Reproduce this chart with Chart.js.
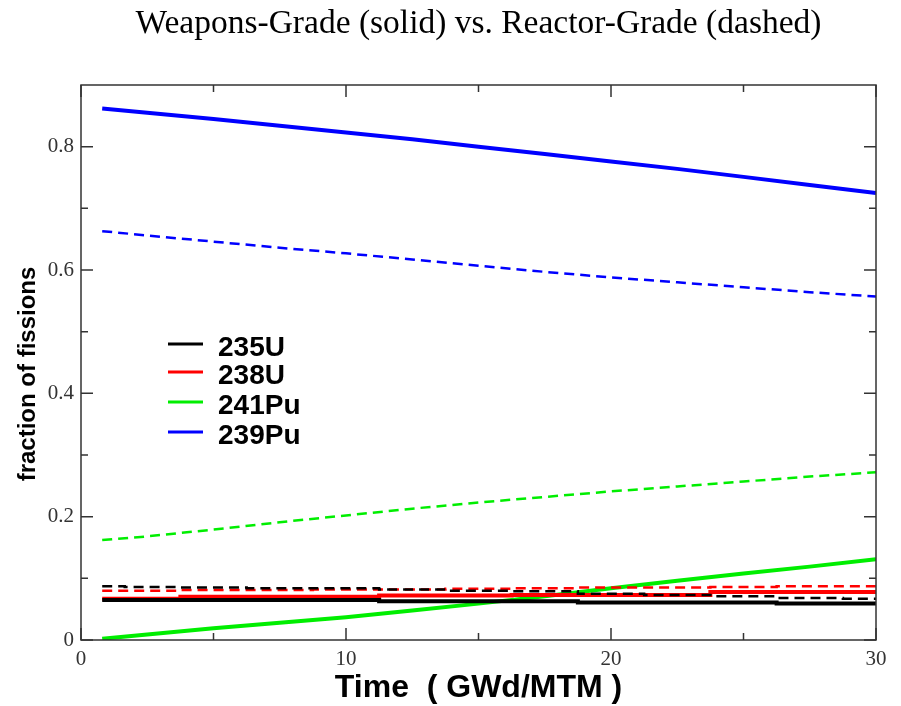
<!DOCTYPE html>
<html>
<head>
<meta charset="utf-8">
<script src="https://cdn.jsdelivr.net/npm/chart.js@4.4.0/dist/chart.umd.min.js"></script>
<style>
  html, body { margin: 0; padding: 0; background: #fff; }
  #wrap { width: 901px; height: 706px; }
</style>
</head>
<body>
<div id="wrap"><canvas id="myChart" width="901" height="706"></canvas></div>
<script>
// burnup points (GWd/MTM)
var burnup = [0.8, 2.5, 5, 7.5, 10, 12.5, 15, 17.5, 20, 22.5, 25, 27.5, 30];

// weapons-grade (solid)
var u235WG  = [0.065, 0.065, 0.065, 0.065, 0.065, 0.063, 0.063, 0.063, 0.061, 0.061, 0.061, 0.059, 0.059];
var u238WG  = [0.067, 0.067, 0.070, 0.070, 0.070, 0.072, 0.072, 0.073, 0.073, 0.073, 0.078, 0.078, 0.078];
var pu241WG = [0.002, 0.009, 0.019, 0.028, 0.037, 0.048, 0.059, 0.071, 0.084, 0.096, 0.108, 0.119, 0.131];
var pu239WG = [0.862, 0.855, 0.845, 0.834, 0.823, 0.812, 0.800, 0.788, 0.776, 0.764, 0.751, 0.738, 0.725];

// reactor-grade (dashed)
var u235RG  = [0.087, 0.086, 0.085, 0.084, 0.084, 0.082, 0.080, 0.079, 0.075, 0.073, 0.071, 0.068, 0.067];
var u238RG  = [0.080, 0.080, 0.081, 0.081, 0.082, 0.082, 0.083, 0.084, 0.085, 0.085, 0.086, 0.087, 0.087];
var pu241RG = [0.162, 0.168, 0.179, 0.191, 0.202, 0.213, 0.223, 0.232, 0.241, 0.249, 0.257, 0.265, 0.272];
var pu239RG = [0.663, 0.656, 0.646, 0.636, 0.627, 0.617, 0.607, 0.597, 0.588, 0.580, 0.572, 0.564, 0.557];

var isotopes = ['235U', '238U', '241Pu', '239Pu'];
var colors = ['#000000', '#ff0000', '#00ee00', '#0000ff'];
var xTicks = [0, 10, 20, 30];
var yTicks = [0, 0.2, 0.4, 0.6, 0.8];

var titleText = 'Weapons-Grade (solid) vs. Reactor-Grade (dashed)';
var xTitle = 'Time  ( GWd/MTM )';
var yTitle = 'fraction of fissions';

function pts(arr) {
    return arr.map(function(v, i){ return {x: burnup[i], y: v}; });
}

var solid = [u235WG, u238WG, pu241WG, pu239WG];
var dashed = [u235RG, u238RG, pu241RG, pu239RG];
var datasets = [];
for (var i = 0; i < 4; i++) {
    datasets.push({
        label: isotopes[i] + ' RG',
        data: pts(dashed[i]),
        borderColor: colors[i],
        borderWidth: 2.5,
        borderDash: [10, 6],
        pointRadius: 0,
        stepped: i < 2 ? 'middle' : false,
        tension: 0
    });
}
for (var i = 0; i < 4; i++) {
    datasets.push({
        label: isotopes[i],
        data: pts(solid[i]),
        borderColor: colors[i],
        borderWidth: 4,
        pointRadius: 0,
        stepped: i < 2 ? 'middle' : false,
        tension: 0
    });
}

// frame, inward ticks, titles and the in-plot legend
var framePlugin = {
    id: 'frame',
    afterDraw: function(chart) {
        var c = chart.ctx, a = chart.chartArea;
        var xs = chart.scales.x, ys = chart.scales.y;
        var cx = (a.left + a.right) / 2;
        c.save();
        c.strokeStyle = '#333';
        c.lineWidth = 1.5;
        c.strokeRect(a.left, a.top, a.right - a.left, a.bottom - a.top);
        c.beginPath();
        for (var v = 0; v <= 30; v += 5) {
            var px = xs.getPixelForValue(v);
            var len = (v % 10 === 0) ? 12 : 7;
            c.moveTo(px, a.bottom); c.lineTo(px, a.bottom - len);
            c.moveTo(px, a.top); c.lineTo(px, a.top + len);
        }
        for (var k = 0; k <= 8; k++) {
            var py = ys.getPixelForValue(k / 10);
            var len2 = (k % 2 === 0) ? 12 : 7;
            c.moveTo(a.left, py); c.lineTo(a.left + len2, py);
            c.moveTo(a.right, py); c.lineTo(a.right - len2, py);
        }
        c.stroke();

        // titles
        c.fillStyle = '#000';
        c.textAlign = 'center';
        c.textBaseline = 'middle';
        c.font = '33.5px "Liberation Serif", "Times New Roman", serif';
        c.fillText(titleText, cx, 24);
        c.font = 'bold 32px "Liberation Sans", Arial, sans-serif';
        c.fillText(xTitle, cx, 688);
        c.save();
        c.translate(28, 374);
        c.rotate(-Math.PI / 2);
        c.font = 'bold 24px "Liberation Sans", Arial, sans-serif';
        c.fillText(yTitle, 0, 0);
        c.restore();

        // legend
        var ly = [344, 372, 402, 432];
        c.textAlign = 'left';
        c.font = 'bold 28px "Liberation Sans", Arial, sans-serif';
        for (var j = 0; j < 4; j++) {
            c.strokeStyle = colors[j];
            c.lineWidth = 3;
            c.beginPath();
            c.moveTo(168, ly[j]); c.lineTo(203, ly[j]);
            c.stroke();
            c.fillText(isotopes[j], 218, ly[j] + 4);
        }
        c.restore();
    }
};

var ctx = document.getElementById('myChart');
var chart = new Chart(ctx, {
    type: 'line',
    data: { datasets: datasets },
    options: {
        responsive: false,
        animation: false,
        layout: { padding: { top: 85, right: 25 } },
        plugins: {
            legend: { display: false },
            tooltip: { enabled: false },
            title: { display: false }
        },
        scales: {
            x: {
                type: 'linear',
                min: 0, max: 30,
                afterBuildTicks: function(s){ s.ticks = xTicks.map(function(v){ return {value: v}; }); },
                afterFit: function(s){ s.height = 66; },
                grid: { display: false, drawTicks: false, tickLength: 0 },
                border: { display: false },
                ticks: {
                    color: '#333',
                    font: { family: '"Liberation Serif", "Times New Roman", serif', size: 21 },
                    padding: 7,
                    maxRotation: 0
                }
            },
            y: {
                min: 0, max: 0.9,
                afterBuildTicks: function(s){ s.ticks = yTicks.map(function(v){ return {value: v}; }); },
                afterFit: function(s){ s.width = 81; },
                grid: { display: false, drawTicks: false, tickLength: 0 },
                border: { display: false },
                ticks: {
                    color: '#333',
                    font: { family: '"Liberation Serif", "Times New Roman", serif', size: 21 },
                    padding: 7,
                    callback: function(v){ return v === 0 ? '0' : v.toFixed(1); }
                }
            }
        }
    },
    plugins: [framePlugin]
});
</script>
</body>
</html>
